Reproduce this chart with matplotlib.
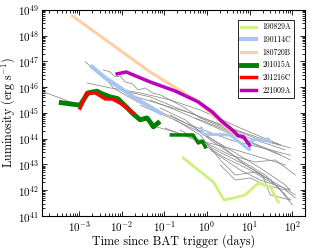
import matplotlib
matplotlib.use("Agg")
import matplotlib.pyplot as plt
from matplotlib.ticker import LogLocator, NullFormatter

plt.rcParams["font.family"] = "serif"
plt.rcParams["font.serif"] = ["cmr10"]
plt.rcParams["mathtext.fontset"] = "cm"
plt.rcParams["axes.formatter.use_mathtext"] = True

# Highlighted bursts: time since trigger (days), luminosity (erg/s)
t_190829A = [0.276, 1.4, 2.5, 4.2, 7.9, 15.9, 30.5, 46.8]
L_190829A = [1.8e43, 2.1e42, 4.2e41, 5.0e41, 6.6e41, 1.9e42, 1.35e42, 3.5e41]

t_190114C_a = [2.0e-3, 4.1e-3, 9.2e-3, 0.0206, 0.08]
L_190114C_a = [6.2e46, 2.3e46, 9.4e45, 3.8e45, 1.0e45]
t_190114C_b = [0.73, 0.81, 3.5, 9.8, 10.3, 15.9, 19.8, 27.4, 30.0]
L_190114C_b = [2.6e44, 1.5e44, 1.4e44, 3.7e43, 8.1e43, 9.8e43, 8.1e43, 9.8e43, 7.5e43]

t_180720B = [6.9e-4, 0.046, 0.53, 4.6]
L_180720B = [5.9e48, 3.9e46, 3.2e45, 1.4e44]

t_201015A_a = [3.8e-4, 1.05e-3, 1.6e-3, 2.6e-3, 3.5e-3, 5.4e-3, 8.0e-3, 0.012,
               0.0175, 0.027, 0.039, 0.046, 0.055, 0.071]
L_201015A_a = [2.5e45, 2.0e45, 6.0e45, 7.0e45, 5.5e45, 4.2e45, 3.6e45, 1.9e45,
               1.0e45, 5.4e44, 6.4e44, 4.5e44, 2.9e44, 4.1e44]
t_201015A_b = [0.145, 0.47, 0.62, 0.77, 0.91]
L_201015A_b = [1.4e44, 1.4e44, 6.8e43, 8.1e43, 4.8e43]

t_201216C = [1.05e-3, 1.5e-3, 2.4e-3, 4.1e-3, 6.0e-3, 9.2e-3, 0.0185]
L_201216C = [1.55e45, 6.0e45, 6.0e45, 3.5e45, 3.5e45, 2.4e45, 1.0e45]

t_221009A = [7.8e-3, 0.0127, 0.046, 0.18, 0.62, 1.32, 2.3, 3.9, 5.4, 7.1, 9.8]
L_221009A = [3.3e46, 3.9e46, 1.6e46, 7.1e45, 2.7e45, 1.1e45, 4.5e44, 2.2e44,
             1.3e44, 1.2e44, 5.8e43]

# Comparison sample (grey)
grey_t = [
    [1.43e-4, 3.6e-4, 8.1e-4, 1.24e-3, 1.38e-3, 2.4e-3],
    [1.38e-3, 2.4e-3, 4.1e-3, 6.3e-3, 0.012, 0.027, 0.08, 0.4, 3.5, 30, 90],
    [3.7e-3, 5.3e-3, 7.0e-3, 9.2e-3, 0.012, 0.0175, 0.0243, 0.0355, 0.0518,
     0.08, 0.137, 0.308, 0.69, 6.0, 68.5],
    [1.54e-3, 5.3e-3, 0.027, 0.137, 0.69, 6.0, 52],
    [0.0157, 0.08, 0.403, 2.04, 17.7, 89.8],
    [0.0464, 0.235, 1.19, 6.0, 30.5, 89.8],
    [0.027, 0.137, 0.69, 3.5, 17.7, 68.5, 89.8],
    [0.08, 0.308, 1.19, 6.0, 23.2, 89.8],
    [0.137, 0.529, 2.04, 7.88, 30.5, 118],
    [0.179, 0.69, 2.04, 4.59, 13.5, 30.5, 52.2, 100],
    [0.0464, 0.179, 0.907, 4.59, 19.8, 68.5],
    [1.19, 6.0, 17.7, 89.8],
    [0.69, 3.5, 13.5, 39.9, 118],
    [2.04, 4.59, 10.3, 23.2, 68.5, 118],
    [0.104, 0.529, 2.67, 10.3, 39.9, 68.5],
    [0.235, 1.56, 7.88, 19.8, 30.5, 89.8],
    [0.529, 2.67, 13.5, 52.2],
    [9.2e-3, 0.0464, 0.137, 0.529, 3.5, 23.2, 52.2],
]
grey_L = [
    [6.6e45, 3.8e45, 2.2e45, 2.0e45, 4.2e45, 6.0e45],
    [9.6e46, 4.7e46, 2.3e46, 9.4e45, 5.0e45, 2.4e45, 1.1e45, 3.4e44, 9.0e43, 3.7e43, 2.3e43],
    [4.7e46, 3.9e46, 2.5e46, 2.7e46, 1.6e46, 1.35e46, 7.8e45, 9.4e45, 6.0e45,
     5.0e45, 3.2e45, 1.55e45, 6.4e44, 1.4e44, 3.7e43],
    [1.46e46, 9.4e45, 6.0e45, 3.2e45, 1.3e45, 2.6e44, 5.8e43],
    [5.0e45, 2.2e45, 1.0e45, 3.4e44, 9.0e43, 4.4e43],
    [3.2e45, 1.1e45, 3.4e44, 1.07e44, 3.7e43, 1.5e43],
    [2.0e45, 6.4e44, 1.8e44, 3.7e43, 7.3e42, 1.6e42, 1.02e42],
    [1.55e45, 5.4e44, 9.0e43, 1.5e43, 3.9e42, 4.2e41],
    [8.3e44, 2.6e44, 5.8e43, 9.6e42, 2.5e42, 6.6e41],
    [5.4e44, 1.4e44, 1.5e43, 3.9e42, 5.1e42, 2.5e42, 1.02e42, 2.7e41],
    [3.4e44, 1.8e44, 7.5e43, 3.7e43, 1.8e43, 9.6e42],
    [3.7e43, 6.1e42, 2.5e42, 1.02e42],
    [9.0e43, 2.3e43, 1.25e43, 1.5e43, 3.9e42],
    [9.6e42, 2.5e42, 3.0e42, 1.6e42, 1.02e42, 5.0e41],
    [2.6e44, 9.0e43, 1.8e43, 6.1e42, 1.6e42, 6.6e41],
    [2.2e44, 3.7e43, 9.6e42, 3.9e42, 6.6e41, 4.2e41],
    [6.4e44, 2.2e44, 5.8e43, 2.3e43],
    [7.8e45, 4.2e45, 2.0e45, 8.3e44, 2.6e44, 9.0e43, 5.8e43],
]

x_ticks = [1e-3, 1e-2, 1e-1, 1e0, 1e1, 1e2]
y_ticks = [1e41, 1e42, 1e43, 1e44, 1e45, 1e46, 1e47, 1e48, 1e49]

fig = plt.figure(figsize=(3.12, 2.48), dpi=100)
ax = fig.add_axes([0.135, 0.129, 0.843, 0.831])

for t, L in zip(grey_t, grey_L):
    ax.plot(t, L, color="#8a8a8a", lw=0.55, zorder=1)

ax.plot(t_190829A, L_190829A, color="#ccf27a", lw=2.0, label="190829A", zorder=3)
ax.plot(t_190114C_a, L_190114C_a, color="#a8c6f0", lw=3.0, label="190114C", zorder=3)
ax.plot(t_190114C_b, L_190114C_b, color="#a8c6f0", lw=2.2, zorder=3)
ax.plot(t_180720B, L_180720B, color="#ffcfa3", lw=2.2, label="180720B", zorder=2)
ax.plot(t_201015A_a, L_201015A_a, color="green", lw=3.5, label="201015A", zorder=3)
ax.plot(t_201015A_b, L_201015A_b, color="green", lw=2.5, zorder=3)
ax.plot(t_201216C, L_201216C, color="red", lw=2.5, label="201216C", zorder=4)
ax.plot(t_221009A, L_221009A, color="#bb00bb", lw=2.5, label="221009A", zorder=4)

ax.set_xscale("log")
ax.set_yscale("log")
ax.set_xticks(x_ticks)
ax.set_yticks(y_ticks)
ax.xaxis.set_minor_locator(LogLocator(base=10, subs=range(2, 10), numticks=20))
ax.yaxis.set_minor_locator(LogLocator(base=10, subs=range(2, 10), numticks=20))
ax.xaxis.set_minor_formatter(NullFormatter())
ax.yaxis.set_minor_formatter(NullFormatter())
ax.set_xlim(1.35e-4, 200)
ax.set_ylim(1e41, 1e49)
ax.tick_params(which="both", direction="in", top=True, right=True, labelsize=8,
               width=0.6, pad=2)
ax.tick_params(which="major", length=3.5)
ax.tick_params(which="minor", length=2)
for s in ax.spines.values():
    s.set_linewidth(0.8)

ax.set_xlabel("Time since BAT trigger (days)", fontsize=8.7, labelpad=0.5)
ax.set_ylabel("Luminosity (erg s$^{-1}$)", fontsize=8.7, labelpad=1)

leg = ax.legend(loc="upper right", bbox_to_anchor=(0.958, 0.951), fontsize=5.5,
                handlelength=2.0, fancybox=False, edgecolor="black", framealpha=1,
                borderaxespad=0, labelspacing=0.55)
leg.get_frame().set_linewidth(0.6)

fig.savefig("out.png", dpi=100)
